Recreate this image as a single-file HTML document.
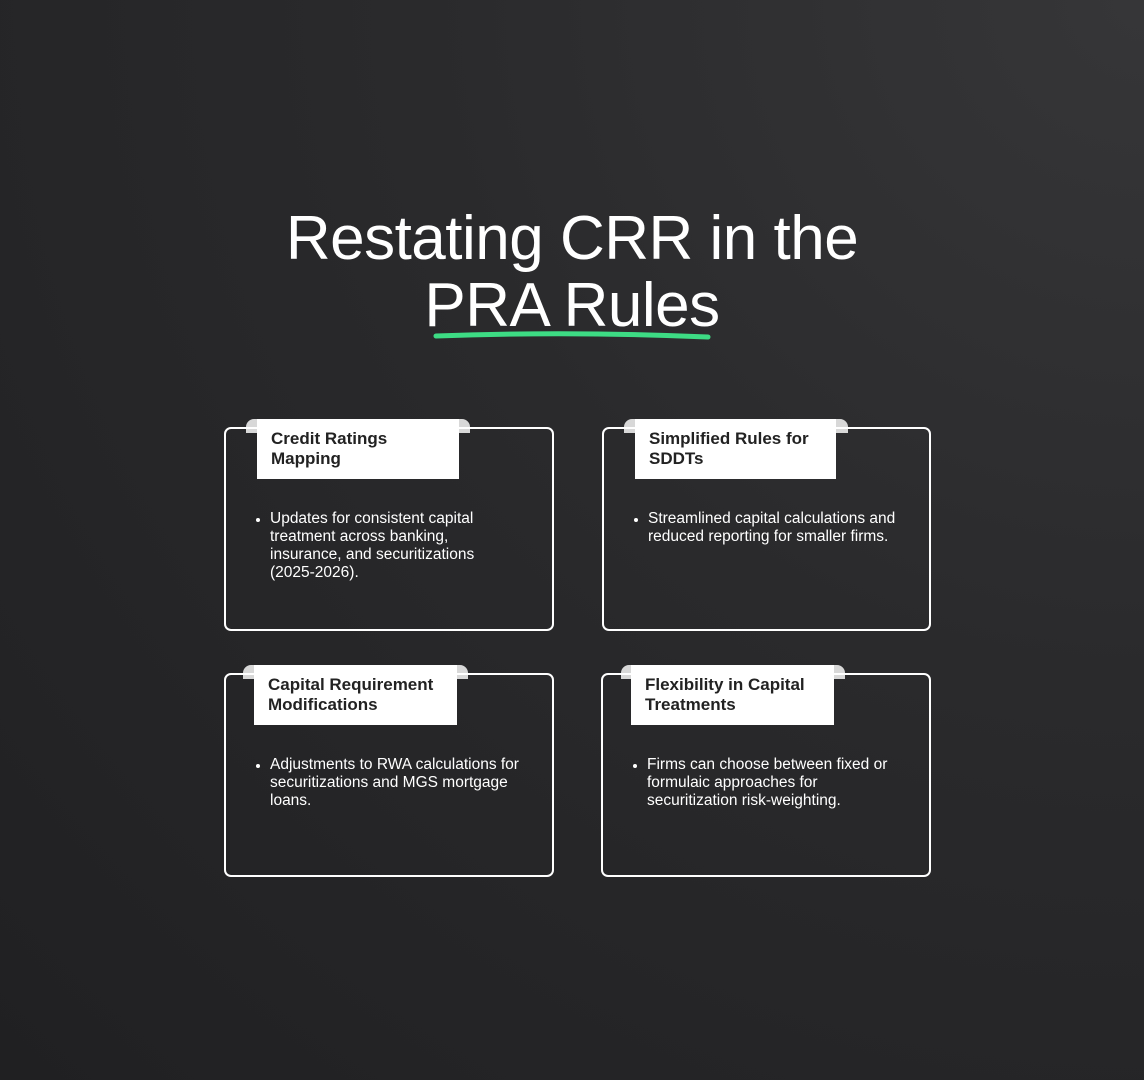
<!DOCTYPE html>
<html><head><style>
body{margin:0;width:1144px;height:1080px;overflow:hidden;background:radial-gradient(ellipse at 100% 0%,#363638 0%,#2a2a2c 45%,#202022 100%);font-family:"Liberation Sans",sans-serif;position:relative}
.t{position:absolute;left:0;width:1144px;text-align:center;color:#fff;font-size:62px;letter-spacing:-0.5px;line-height:67px}
.card{position:absolute;border:2px solid #fff;border-radius:7px;box-sizing:border-box;height:204px}
.tab{position:absolute;height:14px;background:#d8d8d8;border-radius:8px 8px 0 0}
.lab{position:absolute;background:#fff;height:60px;box-sizing:border-box;padding:10px 14px;color:#222;font-size:17px;line-height:20px;font-weight:bold}
.txt{position:absolute;color:#fff;font-size:15.5px;line-height:18px;width:270px}
.txt:before{content:"";position:absolute;left:-14px;top:8px;width:4px;height:4px;border-radius:50%;background:#fff}
</style></head><body>
<div class="t" style="top:205px">Restating CRR in the</div>
<div class="t" style="top:272px">PRA Rules</div>
<svg style="position:absolute;left:430px;top:328px" width="285" height="18"><path d="M6 8 Q140 3 278 9" stroke="#3ddc84" stroke-width="5" fill="none" stroke-linecap="round"/></svg>

<div class="tab" style="left:246px;top:419px;width:224px"></div>
<div class="card" style="left:224px;top:427px;width:330px"></div>
<div class="lab" style="left:257px;top:419px;width:202px">Credit Ratings Mapping</div>
<div class="txt" style="left:270px;top:510px;width:245px">Updates for consistent capital treatment across banking, insurance, and securitizations (2025-2026).</div>

<div class="tab" style="left:624px;top:419px;width:224px"></div>
<div class="card" style="left:602px;top:427px;width:329px"></div>
<div class="lab" style="left:635px;top:419px;width:201px">Simplified Rules for SDDTs</div>
<div class="txt" style="left:648px;top:510px;width:275px">Streamlined capital calculations and reduced reporting for smaller firms.</div>

<div class="tab" style="left:243px;top:665px;width:225px"></div>
<div class="card" style="left:224px;top:673px;width:330px"></div>
<div class="lab" style="left:254px;top:665px;width:203px">Capital Requirement Modifications</div>
<div class="txt" style="left:270px;top:756px">Adjustments to RWA calculations for securitizations and MGS mortgage loans.</div>

<div class="tab" style="left:621px;top:665px;width:224px"></div>
<div class="card" style="left:601px;top:673px;width:330px"></div>
<div class="lab" style="left:631px;top:665px;width:203px">Flexibility in Capital Treatments</div>
<div class="txt" style="left:647px;top:756px;width:265px">Firms can choose between fixed or formulaic approaches for securitization risk-weighting.</div>
</body></html>
